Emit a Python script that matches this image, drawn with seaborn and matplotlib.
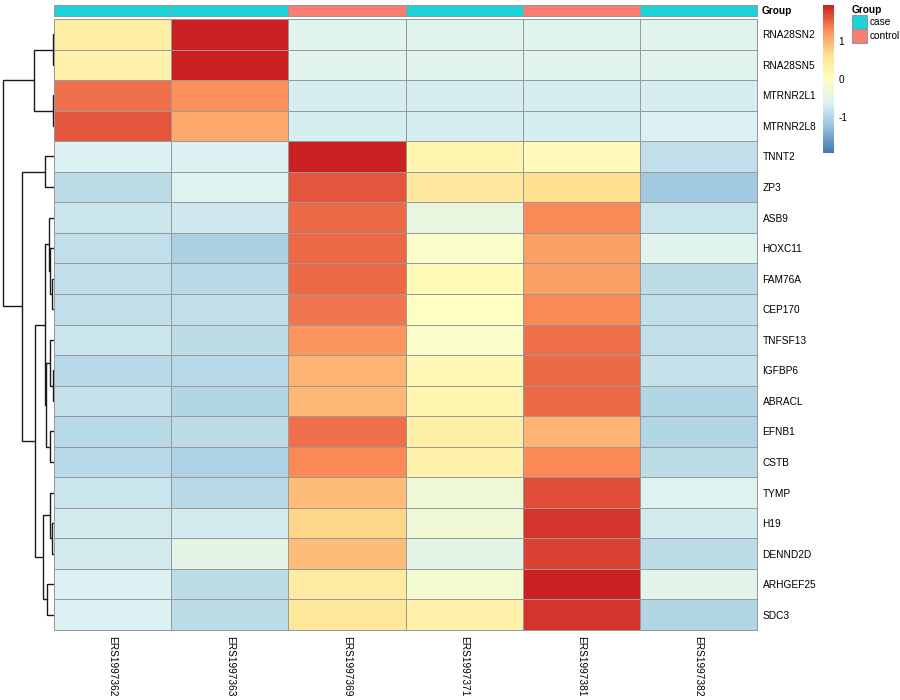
import numpy as np
import pandas as pd
import seaborn as sns
import matplotlib
matplotlib.use("Agg")
import matplotlib.pyplot as plt
from matplotlib.colors import LinearSegmentedColormap, ListedColormap
from matplotlib.patches import Rectangle

genes = ["RNA28SN2", "RNA28SN5", "MTRNR2L1", "MTRNR2L8", "TNNT2", "ZP3", "ASB9",
         "HOXC11", "FAM76A", "CEP170", "TNFSF13", "IGFBP6", "ABRACL", "EFNB1",
         "CSTB", "TYMP", "H19", "DENND2D", "ARHGEF25", "SDC3"]
samples = ["ERS1997362", "ERS1997363", "ERS1997369", "ERS1997371", "ERS1997381", "ERS1997382"]
groups = ["case", "case", "control", "case", "control", "case"]

# row z-scores
zscores = [
    [0.35, 1.90, -0.56, -0.56, -0.56, -0.56],
    [0.25, 1.95, -0.55, -0.55, -0.55, -0.55],
    [1.45, 1.25, -0.67, -0.67, -0.67, -0.67],
    [1.60, 1.05, -0.66, -0.66, -0.66, -0.65],
    [-0.62, -0.62, 1.90, 0.20, 0.05, -0.85],
    [-0.90, -0.60, 1.60, 0.45, 0.65, -1.15],
    [-0.80, -0.75, 1.50, -0.40, 1.30, -0.80],
    [-0.88, -1.05, 1.50, -0.10, 1.15, -0.55],
    [-0.85, -0.95, 1.48, 0.08, 1.15, -0.92],
    [-0.87, -0.85, 1.40, -0.03, 1.30, -0.87],
    [-0.78, -0.90, 1.22, -0.10, 1.45, -0.88],
    [-0.95, -0.95, 1.00, 0.15, 1.50, -0.83],
    [-0.83, -0.97, 0.95, 0.22, 1.50, -0.97],
    [-0.95, -0.90, 1.45, 0.32, 0.98, -0.97],
    [-0.95, -1.02, 1.30, 0.25, 1.30, -0.92],
    [-0.78, -0.95, 0.90, -0.30, 1.65, -0.60],
    [-0.72, -0.72, 0.70, -0.30, 1.80, -0.72],
    [-0.72, -0.50, 0.90, -0.50, 1.70, -0.90],
    [-0.62, -0.90, 0.40, -0.20, 1.90, -0.52],
    [-0.65, -0.90, 0.50, 0.28, 1.80, -1.00],
]

# row dendrogram: (left node, right node, height); leaves are 0..19 in display order
merges = [
    (11, 12, 0.7), (0, 1, 1.0), (2, 3, 1.3), (8, 9, 2.3), (16, 17, 2.3),
    (7, 23, 4.0), (10, 20, 4.0), (13, 14, 4.0), (15, 24, 4.0), (6, 25, 4.7),
    (18, 19, 6.7), (26, 27, 8.0), (29, 31, 9.0), (4, 5, 9.0), (28, 30, 11.3),
    (32, 34, 19.0), (21, 22, 20.0), (33, 35, 32.0), (36, 37, 51.0),
]

group_colors = {"case": "#1DD3DA", "control": "#FA7D73"}
palette = ["#4575B4", "#91BFDB", "#DCF1F2", "#FFFFBF", "#FEE090", "#FC8D59", "#CB2021"]
cmap = LinearSegmentedColormap.from_list("rdylbu", palette, N=100)

W, H = 900, 700
def box(x0, y0, x1, y1):
    # pixel box (top-left origin) -> figure fraction rect
    return [x0 / W, 1 - y1 / H, (x1 - x0) / W, (y1 - y0) / H]

sns.set_style("white")
plt.rcParams["font.family"] = ["Liberation Sans", "DejaVu Sans"]
plt.rcParams["text.color"] = "black"
plt.rcParams["xtick.color"] = "black"
plt.rcParams["ytick.color"] = "black"

fig = plt.figure(figsize=(9, 7), dpi=100)
ax_hm = fig.add_axes(box(54, 19, 757, 630))
ax_an = fig.add_axes(box(54, 5, 757, 16))
ax_dg = fig.add_axes(box(0, 19, 54, 630))
ax_cb = fig.add_axes(box(823, 5, 834, 153))

df = pd.DataFrame(zscores, index=genes, columns=samples)
sns.heatmap(df, ax=ax_hm, cmap=cmap, vmin=-1.93, vmax=1.93,
            linewidths=0.6, linecolor="#999999", cbar_ax=ax_cb,
            cbar_kws={"ticks": [-1, 0, 1]})
ax_hm.collections[0].set_clip_on(False)
ax_hm.yaxis.tick_right()
ax_hm.set_yticklabels(genes, rotation=0, fontsize=7.3)
ax_hm.set_xticklabels(samples, rotation=-90, fontsize=7.3, va="top")
ax_hm.tick_params(length=0, pad=4)
ax_hm.set_xlabel("")
ax_hm.set_ylabel("")

cbar = ax_hm.collections[0].colorbar
cbar.outline.set_visible(False)
cbar.set_ticklabels(["-1", "0", "1"])
ax_cb.tick_params(length=0, labelsize=7.3, pad=3)

# annotation bar
codes = [[0 if g == "case" else 1 for g in groups]]
sns.heatmap(pd.DataFrame(codes, columns=samples), ax=ax_an,
            cmap=ListedColormap([group_colors["case"], group_colors["control"]]),
            vmin=0, vmax=1, cbar=False, linewidths=0.6, linecolor="#999999",
            xticklabels=False, yticklabels=False)
ax_an.collections[0].set_clip_on(False)
fig.text(762 / W, 1 - 11 / H, "Group", fontsize=7.3, fontweight="bold", va="center")

# dendrogram
n = len(genes)
pos = {i: i + 0.5 for i in range(n)}
hgt = {i: 0.0 for i in range(n)}
for k, (a, b, h) in enumerate(merges):
    node = n + k
    ya, yb = pos[a], pos[b]
    ax_dg.plot([hgt[a], h, h, hgt[b]], [ya, ya, yb, yb], color="#1a1a1a", lw=1.0,
               solid_joinstyle="miter")
    pos[node] = (ya + yb) / 2
    hgt[node] = h
ax_dg.set_ylim(n, 0)
ax_dg.set_xlim(53.7, 0)
ax_dg.axis("off")

# group legend
fig.text(852 / W, 1 - 10 / H, "Group", fontsize=7.3, fontweight="bold", va="center")
for i, g in enumerate(["case", "control"]):
    y0 = 15 + i * 14
    fig.patches.append(Rectangle((852 / W, 1 - (y0 + 14) / H), 15 / W, 14 / H,
                                 transform=fig.transFigure, facecolor=group_colors[g],
                                 edgecolor="#999999", lw=0.8))
    fig.text(870 / W, 1 - (y0 + 7) / H, g, fontsize=7.3, va="center")

fig.savefig("out.png", dpi=100)
